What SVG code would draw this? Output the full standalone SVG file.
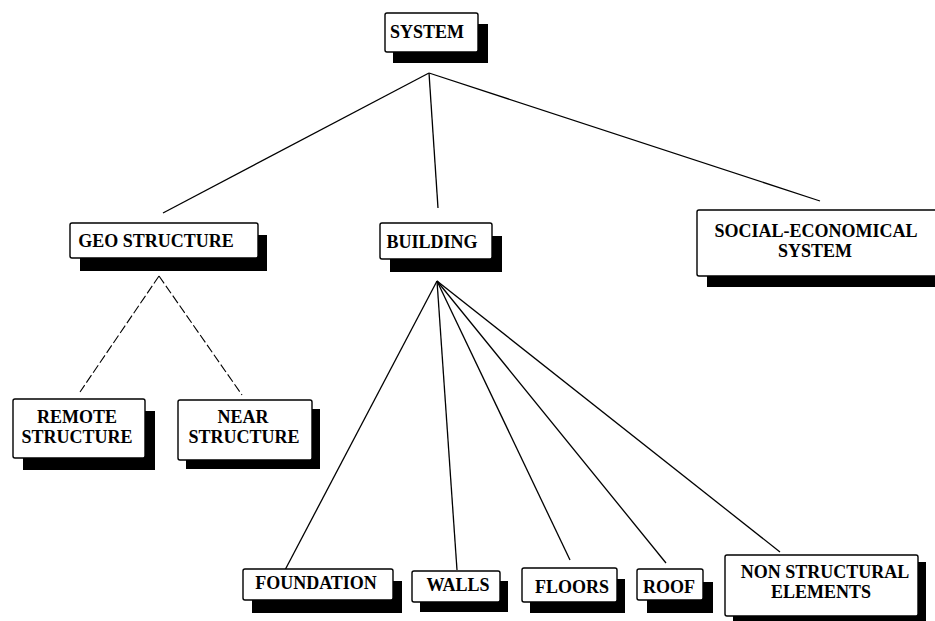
<svg xmlns="http://www.w3.org/2000/svg" width="935" height="621" viewBox="0 0 935 621">
<style>
.box{fill:#fff;stroke:#000;stroke-width:1.4}
.sh{fill:#000}
.t{font-family:"Liberation Serif","Times New Roman",serif;font-weight:bold;font-size:18px;fill:#000;text-anchor:middle}
.ln{stroke:#000;stroke-width:1.3;fill:none}
.dl{stroke:#000;stroke-width:1.1;fill:none;stroke-dasharray:9 3}
</style>
<rect width="935" height="621" fill="#fff"/>
<g id="connectors">
<line class="ln" x1="429" y1="73" x2="163" y2="213"/>
<line class="ln" x1="429" y1="73" x2="438" y2="208"/>
<line class="ln" x1="429" y1="73" x2="820" y2="201"/>
<line class="dl" x1="159" y1="276" x2="80" y2="392"/>
<line class="dl" x1="159" y1="276" x2="242" y2="395"/>
<line class="ln" x1="437" y1="281" x2="285" y2="570"/>
<line class="ln" x1="437" y1="281" x2="457" y2="570"/>
<line class="ln" x1="437" y1="281" x2="570" y2="560"/>
<line class="ln" x1="437" y1="281" x2="666" y2="563"/>
<line class="ln" x1="437" y1="281" x2="780" y2="552"/>
</g>
<g id="system">
<rect class="sh" x="393" y="24" width="95" height="39"/>
<rect class="box" x="385" y="13" width="93" height="39" rx="2"/>
<text class="t" x="427" y="38">SYSTEM</text>
</g>
<g id="geo-structure">
<rect class="sh" x="80" y="235" width="187" height="36"/>
<rect class="box" x="70" y="223" width="188" height="35" rx="2"/>
<text class="t" x="156" y="247">GEO STRUCTURE</text>
</g>
<g id="building">
<rect class="sh" x="390" y="236" width="112" height="36"/>
<rect class="box" x="380" y="223" width="112" height="36" rx="2"/>
<text class="t" x="432" y="248">BUILDING</text>
</g>
<g id="social-economical-system">
<rect class="sh" x="707" y="221" width="240" height="66"/>
<rect class="box" x="697" y="210" width="240" height="66" rx="2"/>
<text class="t" x="816" y="237">SOCIAL-ECONOMICAL</text>
<text class="t" x="815" y="257">SYSTEM</text>
</g>
<g id="remote-structure">
<rect class="sh" x="23" y="411" width="132" height="59"/>
<rect class="box" x="13" y="399" width="132" height="59" rx="2"/>
<text class="t" x="77" y="423">REMOTE</text>
<text class="t" x="77" y="443">STRUCTURE</text>
</g>
<g id="near-structure">
<rect class="sh" x="186" y="409" width="134" height="60"/>
<rect class="box" x="178" y="400" width="134" height="60" rx="2"/>
<text class="t" x="243" y="423">NEAR</text>
<text class="t" x="244" y="443">STRUCTURE</text>
</g>
<g id="foundation">
<rect class="sh" x="252" y="581" width="150" height="32"/>
<rect class="box" x="243" y="569" width="150" height="31" rx="2"/>
<text class="t" x="316" y="589">FOUNDATION</text>
</g>
<g id="walls">
<rect class="sh" x="420" y="581" width="88" height="31"/>
<rect class="box" x="412" y="571" width="88" height="31" rx="2"/>
<text class="t" x="458" y="591">WALLS</text>
</g>
<g id="floors">
<rect class="sh" x="530" y="579" width="95" height="34"/>
<rect class="box" x="522" y="568" width="95" height="34" rx="2"/>
<text class="t" x="572" y="593">FLOORS</text>
</g>
<g id="roof">
<rect class="sh" x="647" y="582" width="66" height="31"/>
<rect class="box" x="637" y="569" width="66" height="31" rx="2"/>
<text class="t" x="669" y="593">ROOF</text>
</g>
<g id="non-structural-elements">
<rect class="sh" x="733" y="562" width="193" height="62"/>
<rect class="box" x="725" y="555" width="193" height="61" rx="2"/>
<text class="t" x="825" y="578">NON STRUCTURAL</text>
<text class="t" x="821" y="598">ELEMENTS</text>
</g>
</svg>
